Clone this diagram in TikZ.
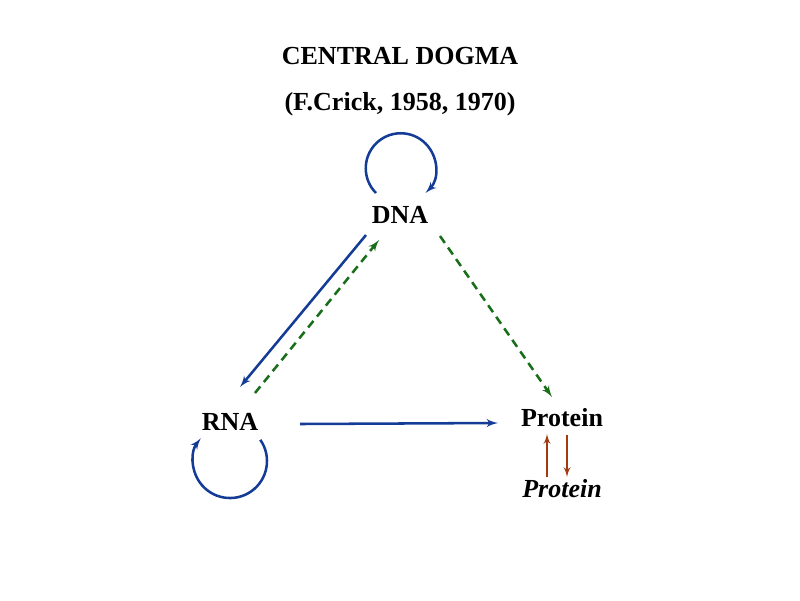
\documentclass[tikz,border=0pt]{standalone}
\usepackage{fontspec}
\setmainfont{Liberation Serif}
\usepackage{tikz}
\usetikzlibrary{arrows}
\usetikzlibrary{calc}
\definecolor{dblue}{RGB}{20,60,150}
\definecolor{dgreen}{RGB}{25,110,25}
\definecolor{dbrown}{RGB}{160,60,15}
\tikzset{lbl/.style = {font=\fontsize{18.5}{22}\selectfont\bfseries, inner sep = 0}}
\tikzset{blu/.style = {dblue, line width = 1.8pt, -latex'}}
\tikzset{grn/.style = {dgreen, line width = 1.8pt, dash pattern = on 6pt off 4pt, -latex'}}
\tikzset{brn/.style = {dbrown, line width = 1.4pt, -latex'}}
\begin{document}
\begin{tikzpicture}[x=0.025cm, y=0.025cm]
    \useasboundingbox (0, 0) rectangle (800, -600);
    \node [lbl] (title) at (400, -56) {CENTRAL DOGMA};
    \node [lbl] (sub) at (400, -104) {(F.Crick, 1958, 1970)};
    \node [lbl] (dna) at (400, -215) {DNA};
    \node [lbl] (rna) at (230, -422) {RNA};
    \node [lbl] (prot) at (562, -418) {Protein};
    \node [lbl, font=\fontsize{18.5}{22}\selectfont\bfseries\itshape] (iprot) at (562, -489) {Protein};

    \draw [blu] ($(dna)+(-24, 22)$) arc [start angle=225, end angle=-45, radius=35];
    \draw [blu] ($(rna)+(30.3, -17.8)$) arc [start angle=35, end angle=-218, radius=37];
    \draw [blu] ($(dna)+(-34, -20)$) -- ($(rna)+(10, 35)$);
    \draw [grn] ($(rna)+(25, 29)$) -- ($(dna)+(-21, -25)$);
    \draw [grn] ($(dna)+(40, -21)$) -- ($(prot)+(-10, 21)$);
    \draw [blu] ($(rna)+(70, -2)$) -- ($(prot)+(-64, -5)$);
    \draw [brn] ($(iprot)+(-15, 12)$) -- ($(prot)+(-15, -16)$);
    \draw [brn] ($(prot)+(5, -17)$) -- ($(iprot)+(5, 12)$);
\end{tikzpicture}
\end{document}
